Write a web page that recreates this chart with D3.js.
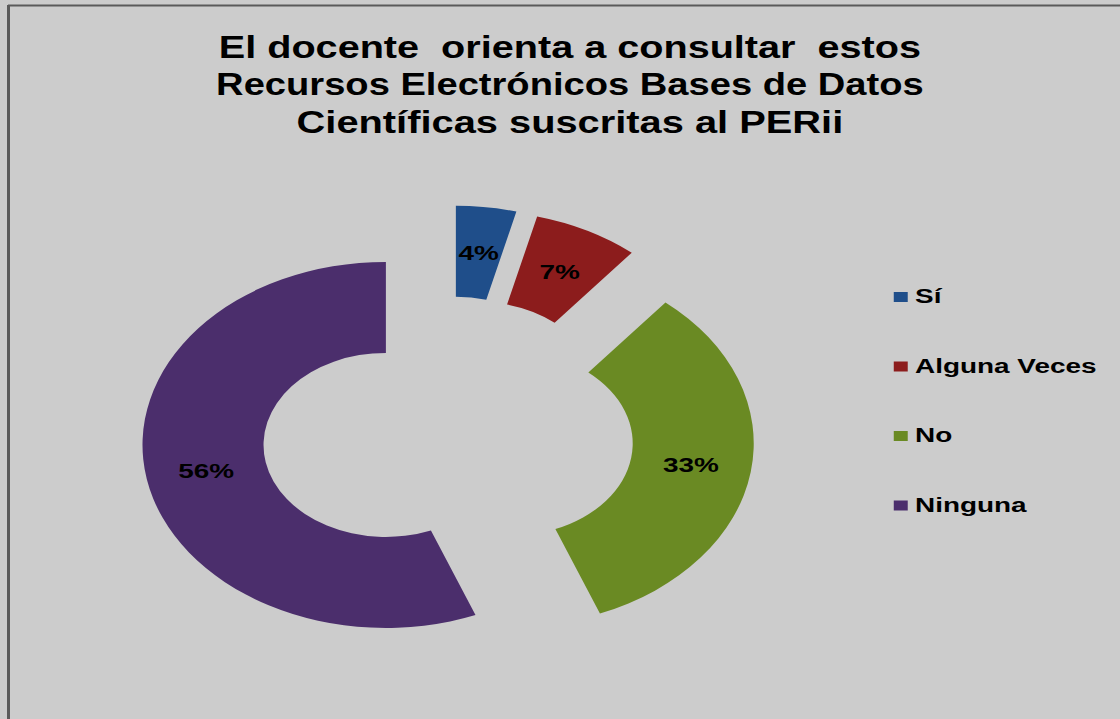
<!DOCTYPE html>
<html>
<head>
<meta charset="utf-8">
<script src="https://cdn.jsdelivr.net/npm/d3@7"></script>
<style>
    html, body { margin: 0; padding: 0; background: #cccccc; }
    svg { display: block; }
</style>
</head>
<body>
<div id="chart"></div>
<script>
// chart data
const categories = ['Sí', 'Alguna Veces', 'No', 'Ninguna'];
const values = [4, 7, 33, 56];
const colors = ['#1f4e8a', '#8c1c1c', '#6a8a23', '#4b2e6c'];
const titleLines = [
    'El docente  orienta a consultar  estos',
    'Recursos Electrónicos Bases de Datos',
    'Científicas suscritas al PERii'
];

const width = 1120, height = 719;
const sx = 1.33; // the original picture is stretched sideways

const svg = d3.select('#chart').append('svg')
    .attr('width', width)
    .attr('height', height);

svg.append('rect')
    .attr('width', width)
    .attr('height', height)
    .attr('fill', '#cccccc');

// frame lines (top and left)
svg.append('line').attr('x1', 8).attr('x2', width).attr('y1', 5.5).attr('y2', 5.5)
    .attr('stroke', '#5a5a5a').attr('stroke-width', 2);
svg.append('line').attr('x1', 8.5).attr('x2', 8.5).attr('y1', 5).attr('y2', height)
    .attr('stroke', '#5a5a5a').attr('stroke-width', 3);

// everything below is drawn in unstretched units, then scaled
const g = svg.append('g').attr('transform', `scale(${sx},1)`);

// title
const titleWidths = [528, 532, 411];
g.append('g').selectAll('text')
    .data(titleLines)
    .enter()
    .append('text')
    .attr('x', 428.5)
    .attr('y', (d, i) => 58 + i * 37.5)
    .attr('text-anchor', 'middle')
    .attr('textLength', (d, i) => titleWidths[i])
    .attr('lengthAdjust', 'spacingAndGlyphs')
    .style('white-space', 'pre')
    .style('font-family', '"Liberation Sans", Arial, sans-serif')
    .style('font-weight', 'bold')
    .style('font-size', '32px')
    .style('fill', '#000')
    .text(d => d);

// exploded donut
const cx = 336.8, cy = 436;
const outerR = 183, innerR = 92, explode = 47.5;

const pie = d3.pie().sort(null).value(d => d);
const arc = d3.arc().innerRadius(innerR).outerRadius(outerR);
const arcs = pie(values);

function offset(d) {
    const a = (d.startAngle + d.endAngle) / 2;
    return [Math.sin(a) * explode, -Math.cos(a) * explode];
}

const slices = g.append('g')
    .attr('transform', `translate(${cx},${cy})`)
    .selectAll('.slice')
    .data(arcs)
    .enter()
    .append('g')
    .attr('class', 'slice')
    .attr('transform', d => `translate(${offset(d)[0]},${offset(d)[1]})`);

slices.append('path')
    .attr('d', arc)
    .attr('fill', (d, i) => colors[i]);

slices.append('text')
    .attr('x', d => arc.centroid(d)[0])
    .attr('y', d => arc.centroid(d)[1])
    .attr('dy', '0.36em')
    .attr('text-anchor', 'middle')
    .style('font-family', '"Liberation Sans", Arial, sans-serif')
    .style('font-weight', 'bold')
    .style('font-size', '21px')
    .style('fill', '#000')
    .text(d => d.data + '%');

// legend
const legend = g.append('g')
    .selectAll('.legend-item')
    .data(categories)
    .enter()
    .append('g')
    .attr('class', 'legend-item')
    .attr('transform', (d, i) => `translate(672,${303 + i * 69.5})`);

legend.append('rect')
    .attr('x', 0)
    .attr('y', -11)
    .attr('width', 10.5)
    .attr('height', 10)
    .attr('fill', (d, i) => colors[i]);

legend.append('text')
    .attr('x', 16)
    .attr('y', 0)
    .style('font-family', '"Liberation Sans", Arial, sans-serif')
    .style('font-weight', 'bold')
    .style('font-size', '21px')
    .style('fill', '#000')
    .text(d => d);
</script>
</body>
</html>
